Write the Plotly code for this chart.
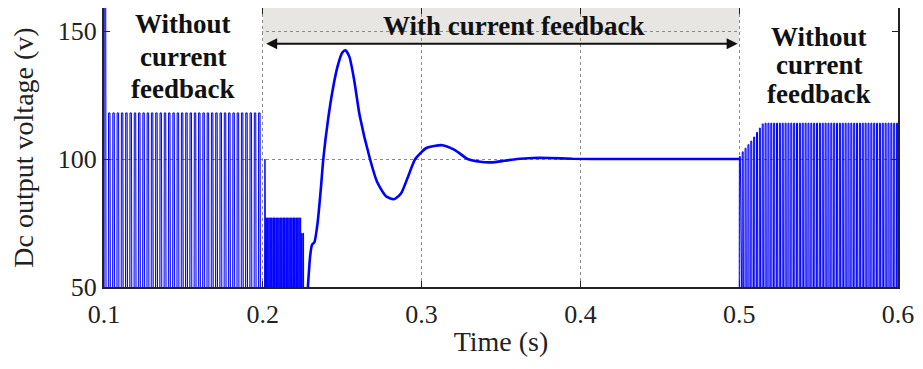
import plotly.graph_objects as go

# ---------------- data ----------------
# Left region (0.1-0.2 s): switching ripple without current feedback
left_start, left_period = 0.1, 0.0027
left_peaks = [165] + [118] * 36

# Start of current feedback (0.2-0.2265 s): collapsed dense ripple
mid_start, mid_period = 0.2010, 0.0009
mid_peaks = [100] + [77] * 25 + [71] * 2

# Closed-loop response with current feedback (time s, voltage V)
resp_t = [0.2284, 0.2298, 0.2310, 0.2325, 0.2345, 0.2365, 0.2381, 0.2410, 0.2440,
          0.2470, 0.2500, 0.2520, 0.2545, 0.2575, 0.2610, 0.2675, 0.2720, 0.2775,
          0.2825, 0.2870, 0.2920, 0.2960, 0.3030, 0.3130, 0.3210, 0.3290, 0.3370,
          0.3440, 0.3520, 0.3600, 0.3700, 0.3800, 0.3950, 0.4200, 0.4600, 0.5000]
resp_v = [50.0, 62.0, 66.5, 67.5, 75.0, 88.0, 100.0, 115.0, 127.0,
          136.0, 141.5, 142.5, 140.0, 131.0, 117.0, 100.0, 91.0, 85.5,
          84.3, 86.5, 94.0, 100.0, 104.3, 105.4, 103.5, 100.0, 98.9,
          98.7, 99.3, 100.0, 100.4, 100.4, 100.1, 100.0, 100.0, 100.0]

# Right region (0.5-0.6 s): ripple returns without current feedback
right_start, right_period = 0.5, 0.0018
right_peaks = [101.0, 102.8, 104.2, 105.6, 107.0, 108.6, 110.4, 112.1, 113.7] + [114] * 47

x_ticks = [0.1, 0.2, 0.3, 0.4, 0.5, 0.6]
y_ticks = [50, 100, 150]

FONT = "Liberation Serif"
BLUE = "#0000ff"


def pulse_train(start, period, peaks, low=30.0):
    xs, ys = [], []
    for k, pk in enumerate(peaks):
        t0 = start + k * period
        xs += [t0, t0 + 0.06 * period, t0 + 0.40 * period, t0 + 0.5 * period]
        ys += [low, pk, pk, low]
    return xs, ys


fig = go.Figure()

lx, ly = pulse_train(left_start, left_period, left_peaks)
fig.add_trace(go.Scatter(x=lx, y=ly, mode="lines", line=dict(color=BLUE, width=1),
                         fill="tozeroy", fillcolor="rgba(70,70,255,0.3)",
                         hoverinfo="skip", showlegend=False))

mx, my = pulse_train(mid_start, mid_period, mid_peaks)
fig.add_trace(go.Scatter(x=mx, y=my, mode="lines", line=dict(color=BLUE, width=1),
                         fill="tozeroy", fillcolor="rgba(0,0,255,0.85)",
                         hoverinfo="skip", showlegend=False))

fig.add_trace(go.Scatter(x=resp_t, y=resp_v, mode="lines",
                         line=dict(color=BLUE, width=2.6, shape="spline", smoothing=0.6),
                         hoverinfo="skip", showlegend=False))

rx, ry = pulse_train(right_start, right_period, right_peaks)
fig.add_trace(go.Scatter(x=rx, y=ry, mode="lines", line=dict(color=BLUE, width=1),
                         fill="tozeroy", fillcolor="rgba(70,70,255,0.3)",
                         hoverinfo="skip", showlegend=False))

YTOP = 159.0
fig.add_shape(type="rect", xref="x", yref="y", x0=0.2, x1=0.5, y0=145, y1=YTOP,
              fillcolor="#e8e6e2", line=dict(width=0), layer="below")
fig.add_shape(type="rect", xref="x", yref="y", x0=0.1, x1=0.1995, y0=118.6, y1=YTOP,
              fillcolor="white", line=dict(width=0), layer="between")
fig.add_shape(type="rect", xref="x", yref="y", x0=0.5008, x1=0.6, y0=114.6, y1=YTOP,
              fillcolor="white", line=dict(width=0), layer="between")

fig.add_annotation(x=0.4990, y=145, ax=0.2012, ay=145, xref="x", yref="y",
                   axref="x", ayref="y", text="", showarrow=True, arrowhead=2,
                   arrowside="end+start", arrowsize=1.1, arrowwidth=2, arrowcolor="#111")

tfont = dict(family=FONT, size=27, color="#111", weight="bold")
fig.add_annotation(x=0.358, y=151.8, text="With current feedback", showarrow=False, font=tfont)
for txt, yv in [("Without", 152.7), ("current", 139.8), ("feedback", 127.3)]:
    fig.add_annotation(x=0.15, y=yv, text=txt, showarrow=False, font=tfont)
for txt, yv in [("Without", 147.7), ("current", 136.7), ("feedback", 125.4)]:
    fig.add_annotation(x=0.55, y=yv, text=txt, showarrow=False, font=tfont)

axis_common = dict(showline=True, linecolor="#222", linewidth=2, mirror="ticks",
                   ticks="inside", ticklen=6, tickcolor="#222", tickwidth=1,
                   showgrid=True, gridcolor="#8a8a8a", griddash="dot", gridwidth=1,
                   zeroline=False, automargin=False, ticklabeloverflow="allow",
                   tickfont=dict(family=FONT, size=26, color="#222"))

fig.update_layout(
    width=907, height=349,
    margin=dict(l=96, r=17, t=0, b=70),
    plot_bgcolor="white", paper_bgcolor="white",
    xaxis=dict(range=[0.1, 0.6], tickvals=x_ticks, tickformat=".1f",
               ticklabelstandoff=3,
               title=dict(text="Time (s)", font=dict(family=FONT, size=28, color="#222"),
                          standoff=10),
               **axis_common),
    yaxis=dict(range=[50, YTOP], tickvals=y_ticks,
               title=dict(text="Dc output voltage (v)",
                          font=dict(family=FONT, size=28, color="#222"), standoff=18),
               **axis_common),
)

fig.write_html("out.html")
